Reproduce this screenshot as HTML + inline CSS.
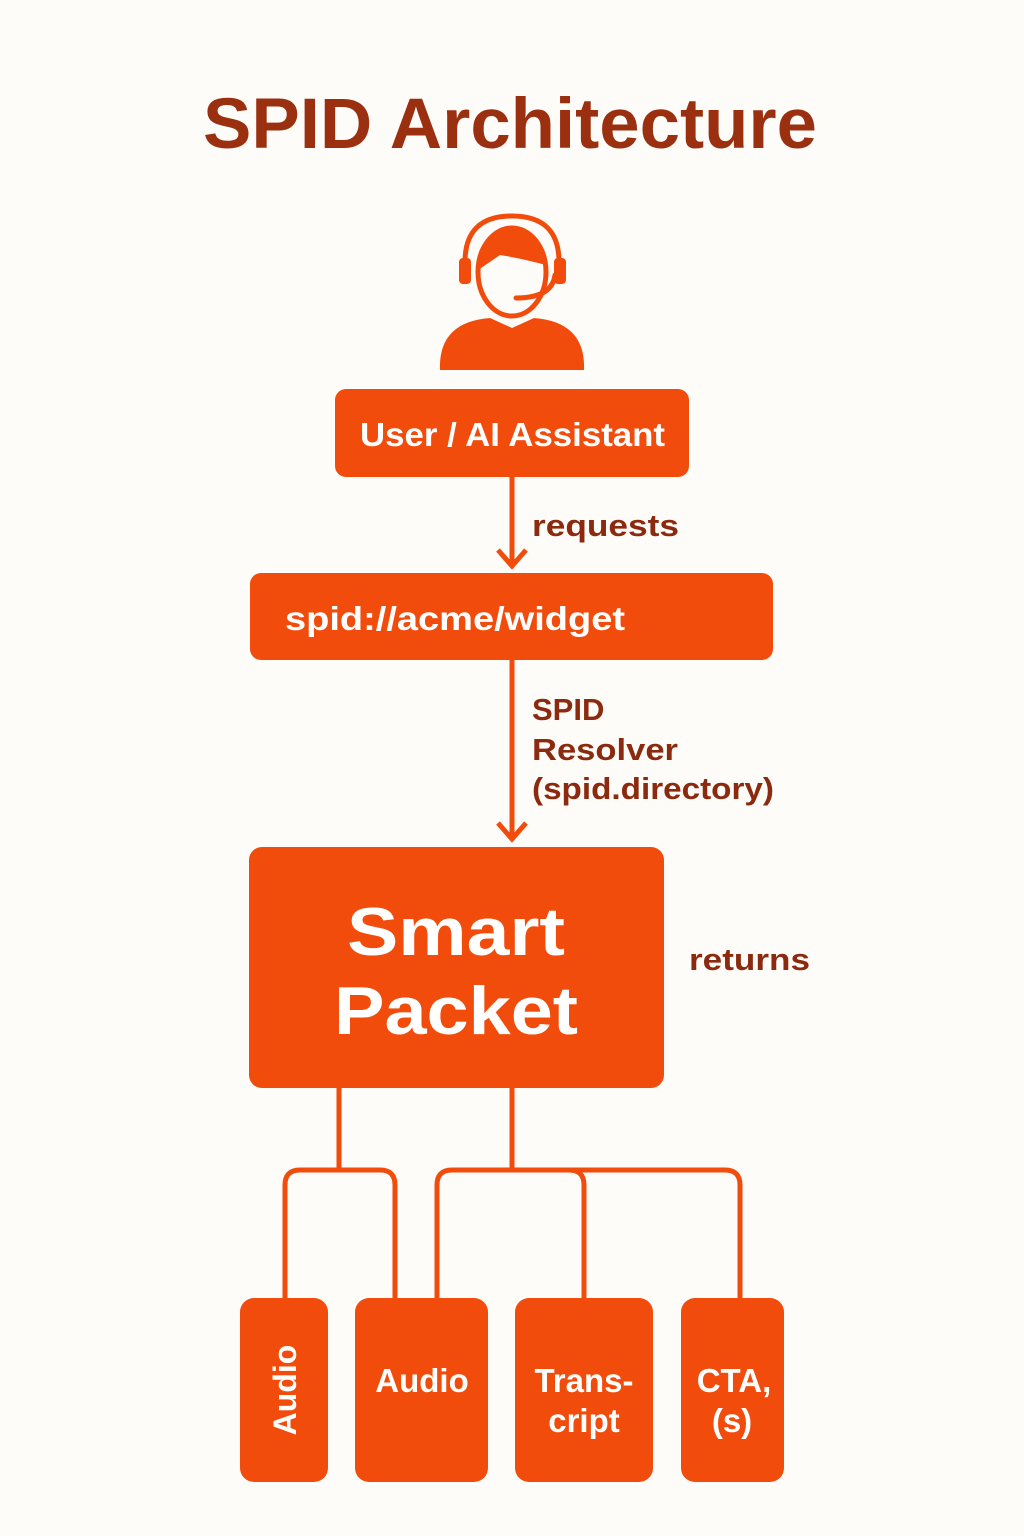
<!DOCTYPE html>
<html><head><meta charset="utf-8"><style>
body{margin:0;background:#FDFCF8;}
svg{display:block}
text{font-family:"Liberation Sans",sans-serif;font-weight:bold}
</style></head><body>
<svg width="1024" height="1536" viewBox="0 0 1024 1536">
<rect width="1024" height="1536" fill="#FDFCF8"/>
<text x="203" y="148" font-size="71" fill="#9A300F" textLength="614" lengthAdjust="spacingAndGlyphs">SPID Architecture</text>
<!-- person icon -->
<g fill="#F24C0C" stroke="none">
<path d="M440 370 Q438 322 490 318 L512 328 L534 318 Q586 322 584 370 Z"/>
<rect x="459" y="258" width="12" height="26" rx="4"/>
<rect x="554" y="258" width="12" height="26" rx="4"/>
</g>
<path d="M465 262 Q465 216 512 216 Q559 216 559 262" fill="none" stroke="#F24C0C" stroke-width="5"/>
<ellipse cx="512" cy="272" rx="34" ry="44" fill="none" stroke="#F24C0C" stroke-width="5"/>
<path d="M478 270 Q478 232 512 230 Q546 232 546 265 Q520 258 500 255 Q490 262 478 270Z" fill="#F24C0C"/>
<path d="M555 275 Q552 298 516 298" fill="none" stroke="#F24C0C" stroke-width="5" stroke-linecap="round"/>
<!-- boxes -->
<g fill="#F24C0C">
<rect x="335" y="389" width="354" height="88" rx="11"/>
<rect x="250" y="573" width="523" height="87" rx="11"/>
<rect x="249" y="847" width="415" height="241" rx="13"/>
<rect x="240" y="1298" width="88" height="184" rx="14"/>
<rect x="355" y="1298" width="133" height="184" rx="14"/>
<rect x="515" y="1298" width="138" height="184" rx="14"/>
<rect x="681" y="1298" width="103" height="184" rx="14"/>
</g>
<g fill="none" stroke="#F24C0C" stroke-width="5">
<path d="M512 477 V565 M498 550 L512 566 L526 550"/>
<path d="M512 660 V838 M498 823 L512 839 L526 823"/>
<path d="M339 1088 V1168"/>
<path d="M285 1300 V1185 Q285 1170 300 1170 H380 Q395 1170 395 1185 V1300"/>
<path d="M512 1088 V1168"/>
<path d="M437 1300 V1185 Q437 1170 452 1170 H725 Q740 1170 740 1185 V1300"/>
<path d="M569 1170 Q584 1170 584 1185 V1300"/>
</g>
<g fill="#fff">
<text x="360" y="446" font-size="33" textLength="305" lengthAdjust="spacingAndGlyphs">User / AI Assistant</text>
<text x="285" y="630" font-size="33" textLength="340" lengthAdjust="spacingAndGlyphs">spid://acme/widget</text>
<text x="456" y="955" text-anchor="middle" font-size="68" textLength="218" lengthAdjust="spacingAndGlyphs">Smart</text>
<text x="456" y="1034" text-anchor="middle" font-size="68" textLength="244" lengthAdjust="spacingAndGlyphs">Packet</text>
<text transform="translate(296 1390) rotate(-90)" text-anchor="middle" font-size="32">Audio</text>
<text x="422" y="1392" text-anchor="middle" font-size="33">Audio</text>
<text x="584" y="1392" text-anchor="middle" font-size="33">Trans-</text>
<text x="584" y="1432" text-anchor="middle" font-size="33">cript</text>
<text x="734" y="1392" text-anchor="middle" font-size="33">CTA,</text>
<text x="732" y="1432" text-anchor="middle" font-size="33">(s)</text>
</g>
<g fill="#8B2A0E" font-size="31">
<text x="532" y="536" textLength="147" lengthAdjust="spacingAndGlyphs">requests</text>
<text x="532" y="720">SPID</text>
<text x="532" y="760" textLength="146" lengthAdjust="spacingAndGlyphs">Resolver</text>
<text x="532" y="799" textLength="242" lengthAdjust="spacingAndGlyphs">(spid.directory)</text>
<text x="689" y="970" textLength="121" lengthAdjust="spacingAndGlyphs">returns</text>
</g>
</svg>
</body></html>
